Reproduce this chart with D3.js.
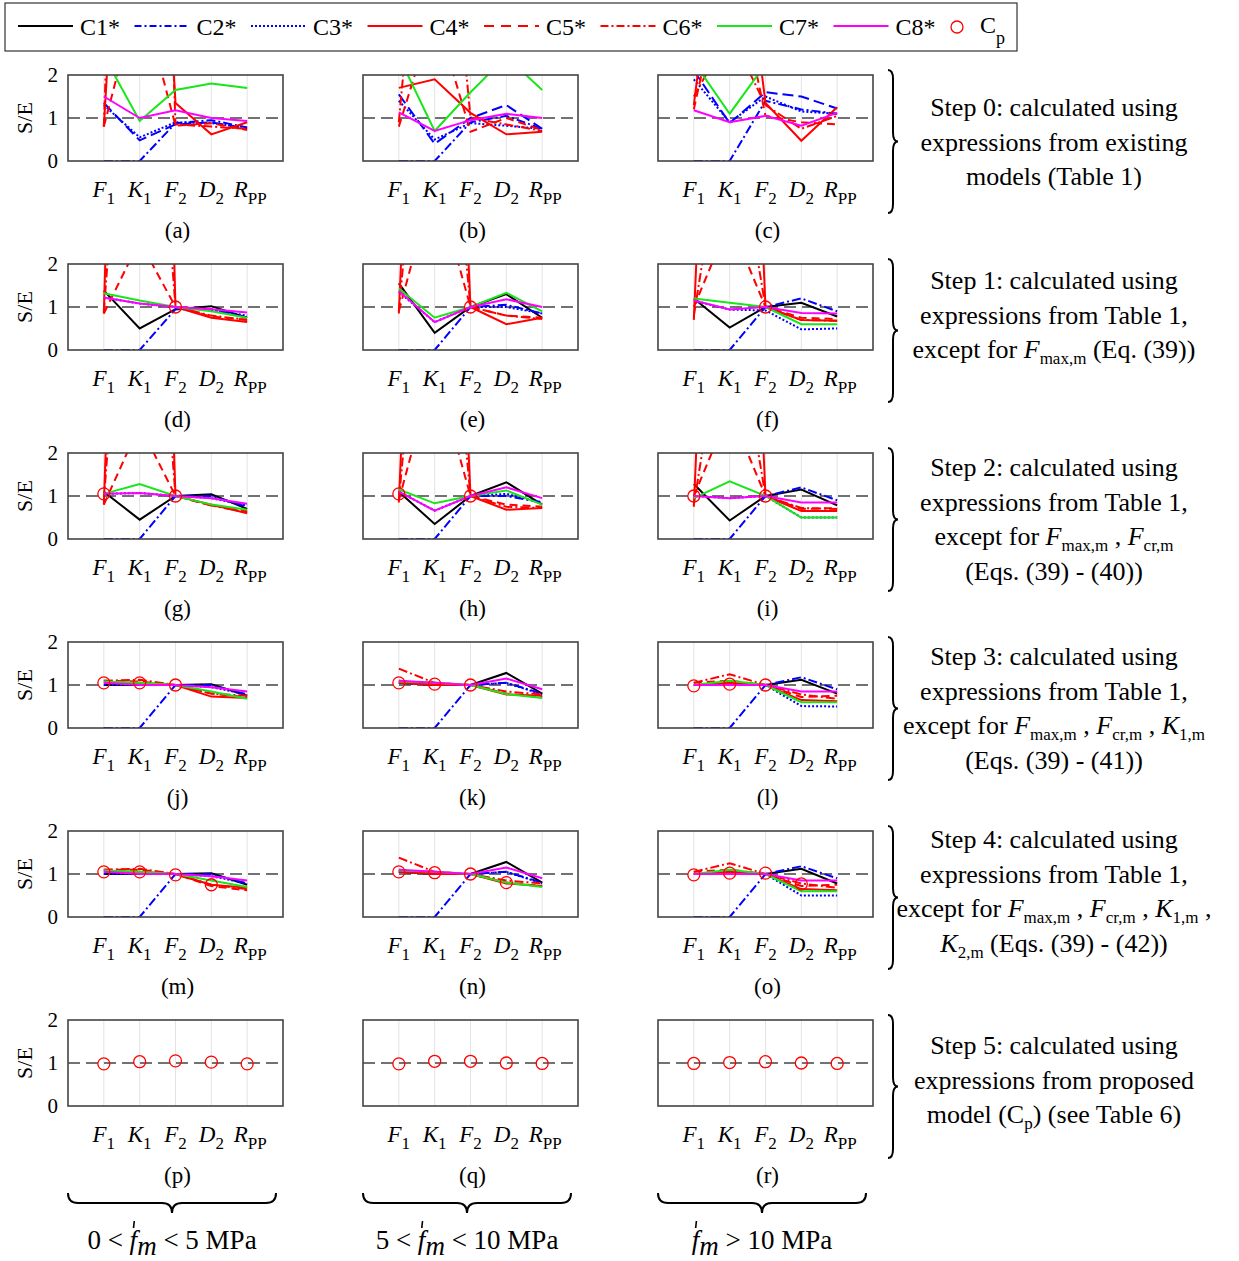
<!DOCTYPE html>
<html>
<head>
<meta charset="utf-8">
<script src="https://cdn.jsdelivr.net/npm/d3@7"></script>
<style>
  body { margin: 0; background: #fff; }
  text { font-family: "Liberation Serif", "Times New Roman", serif; fill: #000; }
</style>
</head>
<body>
<div id="chart"></div>
<script>
// ---- data ----
const categories = ["{F|1}", "{K|1}", "{F|2}", "{D|2}", "{R|PP}"];
const panelLetters = "abcdefghijklmnopqr".split("");
const yTicks = [0, 1, 2];

const stepTexts = [
  ["Step 0: calculated using", "expressions from existing", "models (Table 1)"],
  ["Step 1: calculated using", "expressions from Table 1,", "except for {F|max,m} (Eq. (39))"],
  ["Step 2: calculated using", "expressions from Table 1,", "except for {F|max,m} , {F|cr,m}", "(Eqs. (39) - (40))"],
  ["Step 3: calculated using", "expressions from Table 1,", "except for {F|max,m} , {F|cr,m} , {K|1,m}", "(Eqs. (39) - (41))"],
  ["Step 4: calculated using", "expressions from Table 1,", "except for {F|max,m} , {F|cr,m} , {K|1,m} ,", "{K|2,m} (Eqs. (39) - (42))"],
  ["Step 5:  calculated using", "expressions from proposed", "model ([C|p]) (see Table 6)"]
];
const rangeLabels = [["0 < ", " < 5 MPa"], ["5 < ", " < 10 MPa"], ["", " > 10 MPa"]];

// one row per panel (a..r), values at F1, K1, F2, D2, RPP
const C1 = [
  null, null, null,
  [1.38, 0.50, 0.95, 1.02, 0.75],
  [1.55, 0.40, 1.00, 1.30, 0.75],
  [1.20, 0.52, 1.00, 1.10, 0.78],
  [1.10, 0.45, 1.00, 1.04, 0.70],
  [1.10, 0.35, 1.00, 1.32, 0.80],
  [1.28, 0.43, 1.00, 1.15, 0.78],
  [1.00, 1.00, 1.00, 1.02, 0.75],
  [1.05, 1.00, 1.00, 1.28, 0.80],
  [1.00, 1.00, 1.00, 1.12, 0.80],
  [1.00, 1.00, 1.00, 1.02, 0.75],
  [1.05, 1.00, 1.00, 1.28, 0.80],
  [1.00, 1.00, 1.00, 1.12, 0.78],
  null, null, null
];
const C2 = [
  [0, 0, 0.88, 0.95, 0.78],
  [0, 0, 0.90, 1.05, 0.75],
  [0, 0, 1.40, 1.20, 1.10],
  [0, 0, 0.95, 0.95, 0.75],
  [0, 0, 1.00, 1.05, 0.85],
  [0, 0, 1.00, 1.20, 0.90],
  [0, 0, 1.00, 1.00, 0.75],
  [0, 0, 1.00, 1.00, 0.85],
  [0, 0, 1.00, 1.20, 0.90],
  [0, 0, 1.00, 1.00, 0.78],
  [0, 0, 1.00, 1.05, 0.80],
  [0, 0, 1.00, 1.18, 0.90],
  [0, 0, 1.00, 1.00, 0.78],
  [0, 0, 1.00, 1.05, 0.80],
  [0, 0, 1.00, 1.18, 0.90],
  null, null, null
];
// second blue dashed curve seen only in step 0
const C2step0 = [
  [1.35, 0.48, 0.85, 0.90, 0.75],
  [1.55, 0.40, 1.00, 1.30, 0.75],
  [2.10, 0.88, 1.60, 1.50, 1.22],
  null, null, null, null, null, null, null, null, null, null, null, null, null, null, null
];
const C3 = [
  [1.30, 0.55, 0.90, 0.88, 0.78],
  [1.40, 0.50, 0.88, 0.82, 0.75],
  [1.90, 0.90, 1.50, 1.15, 1.10],
  [1.22, 1.08, 1.00, 0.93, 0.80],
  [1.35, 0.65, 1.00, 1.00, 0.85],
  [1.15, 0.94, 0.92, 0.48, 0.50],
  [1.05, 1.07, 1.00, 0.95, 0.78],
  [1.10, 0.66, 1.00, 1.05, 0.85],
  [1.00, 0.95, 1.00, 0.50, 0.50],
  [1.00, 1.00, 1.00, 0.95, 0.78],
  [1.05, 1.00, 1.00, 1.05, 0.78],
  [1.00, 1.00, 1.00, 0.51, 0.50],
  [1.00, 1.00, 1.00, 0.95, 0.78],
  [1.05, 1.00, 1.00, 1.05, 0.78],
  [1.00, 1.00, 1.00, 0.50, 0.50],
  null, null, null
];
const C4 = [
  [0.80, 15, 1.35, 0.62, 0.90],
  [1.70, 1.90, 1.12, 0.62, 0.68],
  [1.30, 8, 1.35, 0.47, 1.25],
  [0.85, 30, 1.00, 0.75, 0.65],
  [0.85, 20, 1.00, 0.60, 0.75],
  [0.70, 20, 1.00, 0.70, 0.68],
  [0.80, 25, 1.00, 0.80, 0.60],
  [0.85, 20, 1.00, 0.68, 0.72],
  [0.75, 20, 1.00, 0.65, 0.65],
  [1.05, 1.05, 1.00, 0.73, 0.70],
  [1.05, 1.00, 1.00, 0.78, 0.75],
  [1.00, 1.05, 1.00, 0.65, 0.62],
  [1.05, 1.05, 1.00, 0.75, 0.68],
  [1.05, 1.00, 1.00, 0.78, 0.72],
  [1.00, 1.05, 1.00, 0.65, 0.62],
  null, null, null
];
const C5 = [
  [0.80, 4, 0.82, 0.88, 0.72],
  [0.80, 3.5, 0.68, 1.00, 0.72],
  [1.20, 5, 1.05, 0.90, 0.85],
  [0.85, 2.54, 1.00, 0.78, 0.70],
  [0.90, 4, 1.00, 0.80, 0.75],
  [1.00, 3, 1.00, 0.75, 0.72],
  [0.80, 2.65, 1.00, 0.78, 0.65],
  [0.90, 4, 1.00, 0.80, 0.75],
  [1.00, 3, 1.00, 0.70, 0.72],
  [1.10, 1.08, 1.00, 0.80, 0.72],
  [1.10, 1.02, 1.00, 0.80, 0.72],
  [1.05, 1.10, 1.00, 0.72, 0.75],
  [1.10, 1.10, 1.00, 0.72, 0.62],
  [1.10, 1.02, 1.00, 0.80, 0.72],
  [1.05, 1.10, 1.00, 0.72, 0.75],
  null, null, null
];
const C6 = [
  [0.80, 25, 0.85, 0.80, 0.75],
  [0.90, 10, 1.00, 0.85, 0.70],
  [1.50, 3, 1.30, 0.75, 1.05],
  [0.90, 12, 1.00, 0.80, 0.70],
  [0.90, 10, 1.00, 0.80, 0.72],
  [0.80, 6, 1.00, 0.70, 0.68],
  [0.90, 12, 1.00, 0.78, 0.62],
  [0.90, 10, 1.00, 0.75, 0.72],
  [0.80, 6, 1.00, 0.72, 0.70],
  [1.10, 1.12, 1.00, 0.80, 0.75],
  [1.38, 1.05, 1.00, 0.85, 0.78],
  [1.05, 1.25, 1.00, 0.78, 0.68],
  [1.10, 1.12, 1.00, 0.75, 0.65],
  [1.38, 1.05, 1.00, 0.85, 0.78],
  [1.05, 1.25, 1.00, 0.78, 0.68],
  null, null, null
];
const C7 = [
  [2.45, 0.93, 1.65, 1.80, 1.70],
  [2.43, 0.70, 1.60, 2.43, 1.65],
  [2.30, 1.10, 2.25, 3.00, 2.50],
  [1.32, 1.15, 1.00, 0.90, 0.75],
  [1.43, 0.75, 1.00, 1.33, 0.90],
  [1.20, 1.10, 1.00, 0.60, 0.60],
  [1.05, 1.28, 1.00, 0.80, 0.68],
  [1.15, 0.83, 1.00, 1.13, 0.80],
  [0.95, 1.34, 1.00, 0.50, 0.50],
  [1.08, 1.05, 1.00, 0.85, 0.68],
  [1.08, 1.05, 1.00, 0.79, 0.70],
  [1.00, 1.10, 1.00, 0.60, 0.60],
  [1.08, 1.05, 1.00, 0.85, 0.70],
  [1.08, 1.05, 1.00, 0.80, 0.70],
  [1.00, 1.10, 1.00, 0.60, 0.60],
  null, null, null
];
const C8 = [
  [1.50, 1.00, 1.18, 1.00, 0.93],
  [1.13, 0.70, 0.95, 1.10, 1.00],
  [1.18, 0.90, 1.05, 0.82, 1.12],
  [1.22, 1.08, 1.00, 0.95, 0.87],
  [1.37, 0.65, 1.00, 1.18, 1.00],
  [1.15, 0.94, 1.00, 0.86, 0.85],
  [1.05, 1.07, 1.00, 0.95, 0.82],
  [1.10, 0.66, 1.00, 1.20, 0.95],
  [1.00, 0.95, 1.00, 0.85, 0.85],
  [1.05, 1.00, 1.00, 0.95, 0.85],
  [1.10, 1.05, 1.00, 1.15, 0.90],
  [1.00, 1.00, 1.00, 0.85, 0.85],
  [1.05, 1.00, 1.00, 0.95, 0.85],
  [1.10, 1.05, 1.00, 1.15, 0.90],
  [1.00, 1.00, 1.00, 0.85, 0.85],
  null, null, null
];
const Cp = [
  null, null, null,
  [null, null, 1.00, null, null],
  [null, null, 1.00, null, null],
  [null, null, 1.00, null, null],
  [1.05, null, 1.00, null, null],
  [1.05, null, 1.00, null, null],
  [1.00, null, 1.00, null, null],
  [1.05, 1.05, 1.00, null, null],
  [1.05, 1.02, 1.00, null, null],
  [0.98, 1.02, 1.00, null, null],
  [1.05, 1.05, 0.98, 0.75, null],
  [1.05, 1.03, 1.00, 0.80, null],
  [0.98, 1.02, 1.02, 0.77, null],
  [0.98, 1.03, 1.05, 1.02, 0.98],
  [0.98, 1.04, 1.04, 1.00, 0.99],
  [0.99, 1.01, 1.03, 1.00, 0.99]
];

const series = [
  { name: "C1*", values: C1, color: "#000000", dash: null, legendDash: null },
  { name: "C2*", values: C2, color: "#0000ff", dash: "9,3,2,3", legendDash: "7,3,2,3" },
  { name: null, values: C2step0, color: "#0000ff", dash: "11,5" },
  { name: "C3*", values: C3, color: "#0000ff", dash: "2,2", legendDash: "2,2" },
  { name: "C4*", values: C4, color: "#ff0000", dash: null, legendDash: null },
  { name: "C5*", values: C5, color: "#ff0000", dash: "8,5", legendDash: "10,7" },
  { name: "C6*", values: C6, color: "#ff0000", dash: "9,3,2,3", legendDash: "8,3,2,3" },
  { name: "C7*", values: C7, color: "#19e619", dash: null, legendDash: null },
  { name: "C8*", values: C8, color: "#ff00ff", dash: null, legendDash: null }
];

// ---- layout ----
const W = 1239, H = 1261;
const pw = 215, ph = 86;
const colLeft = c => 68 + 295 * c;
const rowTop = r => 75 + 189 * r;
const textFirst = [107, 280, 467, 656, 839, 1045];
const lineGap = 34.5;

const svg = d3.select("#chart").append("svg")
  .attr("width", W).attr("height", H);
svg.append("rect").attr("width", W).attr("height", H).attr("fill", "#fff");

svg.append("defs").append("clipPath").attr("id", "plot-clip")
  .append("rect").attr("width", pw).attr("height", ph);

const x = d3.scaleLinear().domain([0, 6]).range([0, pw]);
const y = d3.scaleLinear().domain([0, 2]).range([ph, 0]);
const line = d3.line()
  .defined(d => d != null)
  .x((d, i) => x(i + 1))
  .y(d => y(d));

// writes "plain {It|sub} [Up|sub]" markup into a text element
function rich(sel, str, o) {
  const re = /\{([^|}]+)\|([^}]*)\}|\[([^|\]]+)\|([^\]]*)\]/g;
  let last = 0, m, down = 0;
  const put = (t, italic, size, dy) => {
    const ts = sel.append("tspan").text(t);
    if (italic) ts.attr("font-style", "italic");
    if (size) ts.attr("font-size", size);
    if (dy) ts.attr("dy", dy);
  };
  while ((m = re.exec(str))) {
    if (m.index > last) { put(str.slice(last, m.index), false, null, -down); down = 0; }
    const italic = m[1] != null;
    put(italic ? m[1] : m[3], italic, null, -down);
    put(italic ? m[2] : m[4], false, o.subSize, o.subDy);
    down = o.subDy;
    last = re.lastIndex;
  }
  if (last < str.length) put(str.slice(last), false, null, -down);
}

// ---- panels ----
panelLetters.forEach((letter, p) => {
  const r = Math.floor(p / 3), c = p % 3;
  const g = svg.append("g")
    .attr("transform", `translate(${colLeft(c)},${rowTop(r)})`);

  g.selectAll(".grid").data([1, 2, 3, 4, 5]).join("line")
    .attr("x1", d => x(d)).attr("x2", d => x(d))
    .attr("y1", 0).attr("y2", ph)
    .attr("stroke", "#e3e3e3").attr("stroke-width", 1);

  g.append("line")
    .attr("x1", 0).attr("x2", pw).attr("y1", y(1)).attr("y2", y(1))
    .attr("stroke", "#444").attr("stroke-width", 1.5)
    .attr("stroke-dasharray", "12,6");

  const plot = g.append("g").attr("clip-path", "url(#plot-clip)");
  series.forEach(s => {
    const vals = s.values[p];
    if (!vals) return;
    plot.append("path")
      .attr("d", line(vals))
      .attr("fill", "none")
      .attr("stroke", s.color)
      .attr("stroke-width", 2)
      .attr("stroke-dasharray", s.dash);
  });

  if (Cp[p]) {
    g.selectAll(".cp").data(Cp[p].map((v, i) => ({ v, i })).filter(d => d.v != null))
      .join("circle")
      .attr("cx", d => x(d.i + 1)).attr("cy", d => y(d.v)).attr("r", 6)
      .attr("fill", "none").attr("stroke", "#ff0000").attr("stroke-width", 1.3);
  }

  g.append("rect")
    .attr("width", pw).attr("height", ph)
    .attr("fill", "none").attr("stroke", "#444").attr("stroke-width", 1.6);

  if (c === 0) {
    const ax = g.append("g")
      .call(d3.axisLeft(y).tickValues(yTicks).tickSize(0).tickPadding(10).tickFormat(d3.format("d")));
    ax.select(".domain").remove();
    ax.attr("font-family", null).attr("font-size", null);
    ax.selectAll("text").attr("font-size", 21);
    g.append("text")
      .attr("transform", `translate(-36,${y(1)}) rotate(-90)`)
      .attr("text-anchor", "middle").attr("font-size", 22)
      .text("S/E");
  }

  categories.forEach((cat, i) => {
    const t = g.append("text")
      .attr("x", x(i + 1) + (i === 4 ? 3 : 0)).attr("y", 122)
      .attr("text-anchor", "middle").attr("font-size", 23);
    rich(t, cat, { subSize: 17, subDy: 7 });
  });

  g.append("text")
    .attr("x", pw / 2 + 2).attr("y", 163)
    .attr("text-anchor", "middle").attr("font-size", 23)
    .text(`(${letter})`);
});

// ---- step descriptions and braces ----
function vBrace(x0, y0, y1) {
  const m = (y0 + y1) / 2, w = 10, h = w / 2;
  return `M${x0},${y0} Q${x0 + h},${y0} ${x0 + h},${y0 + 9} L${x0 + h},${m - 9} ` +
    `Q${x0 + h},${m} ${x0 + w},${m} Q${x0 + h},${m} ${x0 + h},${m + 9} ` +
    `L${x0 + h},${y1 - 9} Q${x0 + h},${y1} ${x0},${y1}`;
}
function hBrace(x0, x1, y0) {
  const c = (x0 + x1) / 2, h = 20, q = h / 2;
  return `M${x0},${y0} Q${x0},${y0 + q} ${x0 + 10},${y0 + q} L${c - 10},${y0 + q} ` +
    `Q${c},${y0 + q} ${c},${y0 + h} Q${c},${y0 + q} ${c + 10},${y0 + q} ` +
    `L${x1 - 10},${y0 + q} Q${x1},${y0 + q} ${x1},${y0}`;
}

stepTexts.forEach((lines, r) => {
  svg.append("path")
    .attr("d", vBrace(888, rowTop(r) - 5, rowTop(r) + 138))
    .attr("fill", "none").attr("stroke", "#000").attr("stroke-width", 2);
  lines.forEach((ln, k) => {
    const t = svg.append("text")
      .attr("x", 1054).attr("y", textFirst[r] + k * lineGap + 9)
      .attr("text-anchor", "middle").attr("font-size", 26);
    rich(t, ln, { subSize: 17, subDy: 6 });
  });
});

rangeLabels.forEach((lab, c) => {
  const cx = colLeft(c) + 104;
  svg.append("path")
    .attr("d", hBrace(cx - 104, cx + 104, 1193))
    .attr("fill", "none").attr("stroke", "#000").attr("stroke-width", 2);
  const t = svg.append("text")
    .attr("x", cx).attr("y", 1249)
    .attr("text-anchor", "middle").attr("font-size", 27);
  t.append("tspan").text(lab[0]);
  t.append("tspan").attr("font-style", "italic").text("f");
  t.append("tspan").attr("font-style", "italic").attr("dy", 6).text("m");
  t.append("tspan").attr("dy", -6).text(lab[1]);
  // prime mark drawn just above the f
  const box = t.node().getExtentOfChar(lab[0].length);
  svg.append("line")
    .attr("x1", box.x + box.width * 0.62).attr("y1", box.y - 4)
    .attr("x2", box.x + box.width * 0.52).attr("y2", box.y + 3)
    .attr("stroke", "#000").attr("stroke-width", 1.6);
});

// ---- legend ----
const legend = svg.append("g");
legend.append("rect")
  .attr("x", 5).attr("y", 3).attr("width", 1012).attr("height", 48)
  .attr("fill", "#fff").attr("stroke", "#333").attr("stroke-width", 1.2);

const legendItems = series.filter(s => s.name);
legendItems.forEach((s, i) => {
  const x0 = 18 + 116.5 * i;
  legend.append("line")
    .attr("x1", x0).attr("x2", x0 + 55).attr("y1", 26).attr("y2", 26)
    .attr("stroke", s.color).attr("stroke-width", 2)
    .attr("stroke-dasharray", s.legendDash);
  legend.append("text")
    .attr("x", x0 + 62).attr("y", 35).attr("font-size", 24)
    .text(s.name);
});
legend.append("circle")
  .attr("cx", 957).attr("cy", 27).attr("r", 6)
  .attr("fill", "none").attr("stroke", "#ff0000").attr("stroke-width", 1.3);
const cpText = legend.append("text").attr("x", 980).attr("y", 33).attr("font-size", 24);
rich(cpText, "[C|p]", { subSize: 18, subDy: 11 });
</script>
</body>
</html>
